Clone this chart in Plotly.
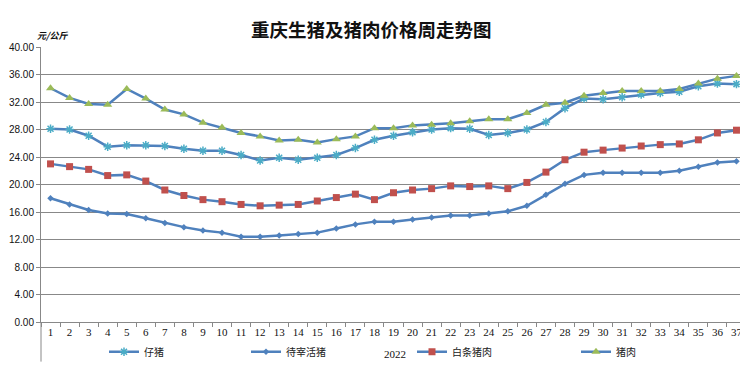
import plotly.graph_objects as go

weeks = [str(i) for i in range(1, 38)]

piglet = [28.1, 28.0, 27.1, 25.5, 25.7, 25.7, 25.6, 25.2, 24.9, 24.9, 24.3, 23.5, 23.9, 23.6, 23.9, 24.3, 25.3, 26.5,
          27.1, 27.6, 28.0, 28.2, 28.1, 27.2, 27.5, 28.0, 29.1, 31.1, 32.5, 32.4, 32.7, 33.1, 33.3, 33.5, 34.3, 34.7, 34.6]
live_pig = [18.0, 17.1, 16.3, 15.8, 15.7, 15.1, 14.4, 13.8, 13.3, 13.0, 12.4, 12.4, 12.6, 12.8, 13.0, 13.6, 14.2, 14.6,
            14.6, 14.9, 15.2, 15.5, 15.5, 15.8, 16.1, 16.9, 18.5, 20.1, 21.4, 21.7, 21.7, 21.7, 21.7, 22.0, 22.6, 23.2, 23.4]
carcass = [23.0, 22.6, 22.2, 21.3, 21.4, 20.5, 19.2, 18.4, 17.8, 17.5, 17.1, 16.9, 17.0, 17.1, 17.6, 18.1, 18.6, 17.8,
           18.8, 19.2, 19.4, 19.8, 19.7, 19.8, 19.4, 20.3, 21.8, 23.6, 24.7, 25.0, 25.3, 25.6, 25.8, 25.9, 26.5, 27.5, 27.9]
pork = [34.0, 32.6, 31.7, 31.6, 33.9, 32.5, 30.9, 30.2, 29.0, 28.3, 27.5, 27.0, 26.4, 26.5, 26.1, 26.6, 27.0, 28.2,
        28.2, 28.6, 28.7, 28.9, 29.2, 29.5, 29.5, 30.4, 31.6, 31.9, 32.9, 33.3, 33.6, 33.6, 33.6, 33.9, 34.7, 35.4, 35.8]

series_names = ["仔猪", "待宰活猪", "白条猪肉", "猪肉"]
y_ticks = [0, 4, 8, 12, 16, 20, 24, 28, 32, 36, 40]

LINE = "#4F81BD"
CJK = "Noto Sans CJK SC"

fig = go.Figure()
specs = [
    (piglet, series_names[0], dict(symbol="asterisk", size=7, color="#4BACC6", line=dict(width=1.5, color="#4BACC6")), "legend"),
    (live_pig, series_names[1], dict(symbol="diamond", size=5, color=LINE), "legend2"),
    (carcass, series_names[2], dict(symbol="square", size=7, color="#C0504D"), "legend3"),
    (pork, series_names[3], dict(symbol="triangle-up", size=8, color="#9BBB59"), "legend4"),
]
for vals, name, mk, lg in specs:
    fig.add_trace(go.Scatter(x=weeks, y=vals, name=name, mode="lines+markers",
                             line=dict(color=LINE, width=2.5), marker=mk, legend=lg))

leg_common = dict(orientation="h", yanchor="middle", xanchor="left", bgcolor="rgba(0,0,0,0)",
                  font=dict(family=CJK, size=10, color="#222"))
# page body has an 8px margin, so the figure is sized/offset to compensate
W = 738
PW = W - 33
fig.update_layout(
    width=W, height=354,
    margin=dict(l=33, r=0, t=38.5, b=39.7, autoexpand=False),
    plot_bgcolor="white", paper_bgcolor="white",
    legend=dict(x=63 / PW, y=-0.108, **leg_common),
    legend2=dict(x=205 / PW, y=-0.108, **leg_common),
    legend3=dict(x=371 / PW, y=-0.108, **leg_common),
    legend4=dict(x=535 / PW, y=-0.108, **leg_common),
    showlegend=True,
    xaxis=dict(type="category", showgrid=False, showline=True, linecolor="#888", linewidth=1,
               ticks="outside", tickson="boundaries", ticklen=4, tickcolor="#888", tickangle=0,
               automargin=False, ticklabeloverflow="allow",
               tickfont=dict(family="Liberation Serif", size=11, color="#111"), range=[-0.5, 36.5]),
    yaxis=dict(range=[0, 40], tickvals=y_ticks, ticktext=[f"{v:.2f}" for v in y_ticks],
               showgrid=True, gridcolor="#888", gridwidth=1, showline=True, linecolor="#888",
               ticks="outside", ticklen=4, tickcolor="#888", zeroline=False, automargin=False,
               tickfont=dict(family="Liberation Sans", size=10, color="#111")),
)
fig.add_annotation(text="<b>重庆生猪及猪肉价格周走势图</b>", xref="paper", yref="paper", x=330 / PW, y=1.067,
                   xanchor="center", yanchor="middle", showarrow=False,
                   font=dict(family=CJK, size=18.5, color="#111"))
fig.add_annotation(text="<b><i>元/公斤</i></b>", xref="paper", yref="paper", x=-0.009, y=1.04, xanchor="left",
                   yanchor="middle", showarrow=False, font=dict(family=CJK, size=9, color="#111"))
fig.add_annotation(text="2022", xref="paper", yref="paper", x=354 / PW, y=-0.115, xanchor="center",
                   yanchor="middle", showarrow=False, font=dict(family="Liberation Serif", size=11, color="#111"))
fig.add_shape(type="line", xref="paper", yref="paper", x0=0, x1=0, y0=0, y1=-0.144,
              line=dict(color="#888", width=1))

fig.write_html("out.html")
